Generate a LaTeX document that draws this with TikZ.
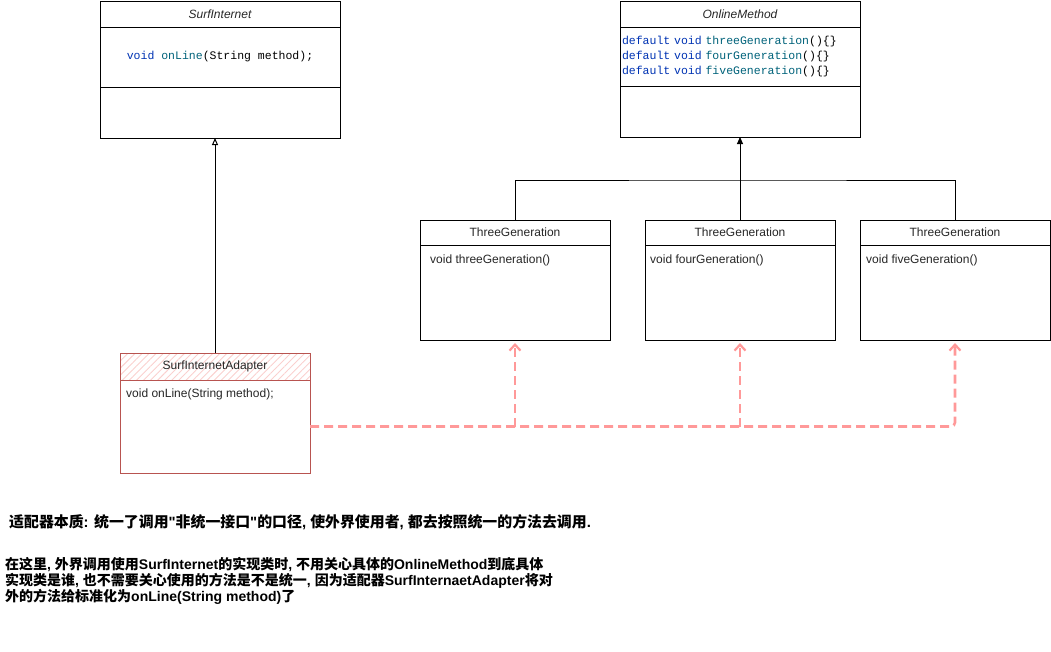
\documentclass[tikz,border=0pt]{standalone}
\usepackage{fontspec}
\setmainfont{Liberation Sans}
\setmonofont{Liberation Mono}
\newfontfamily\cjk{Noto Sans CJK SC}
\newfontfamily\latin{Liberation Sans}[Ligatures=TeXOff]
\usetikzlibrary{arrows.meta,patterns.meta,positioning}
\definecolor{kwblue}{RGB}{0,51,179}
\definecolor{fnteal}{RGB}{0,98,122}
\definecolor{adred}{RGB}{184,84,80}
\definecolor{hatchred}{RGB}{250,208,206}
\definecolor{deppink}{RGB}{255,153,153}
\newcommand{\kw}[1]{\textcolor{kwblue}{#1}}
\newcommand{\fn}[1]{\textcolor{fnteal}{#1}}
\newcommand{\lt}[1]{{\latin #1}}
\tikzset{
  box/.style={draw, line width=1pt, inner sep=0pt, outer sep=0pt, anchor=north west},
  headtext/.style={font=\fontsize{12}{14}\selectfont, text=black!85},
  codetext/.style={font=\ttfamily\fontsize{11.5}{15}\selectfont},
  member/.style={anchor=west, inner sep=0pt, font=\fontsize{12}{14}\selectfont, text=black!85},
  tree/.style={line width=1pt},
  dep/.style={draw=deppink, line width=2.6pt, dash pattern=on 9pt off 5pt, shorten >=3pt,
    -{Straight Barb[length=6pt,width=11pt,line width=2.2pt]}},
  note/.style={inner sep=0pt, font=\cjk\bfseries\fontsize{14}{16}\selectfont}
}
\begin{document}
\begin{tikzpicture}[x=1pt,y=-1pt]
\useasboundingbox (0,0) rectangle (1051,651);

\node[box, headtext, minimum width=240pt, minimum height=26pt] (sihead) at (100,1) {\itshape SurfInternet};
\node[box, codetext, minimum width=240pt, minimum height=60pt] (sibody) at (sihead.south west) {\kw{void} \fn{onLine}(String method);};
\node[box, minimum width=240pt, minimum height=51pt] (sirest) at (sibody.south west) {};

\node[box, headtext, minimum width=240pt, minimum height=26pt] (omhead) at (620,1) {\itshape OnlineMethod};
\node[box, codetext, minimum width=240pt, minimum height=59pt, text width=236pt, inner xsep=2pt, align=left] (ombody) at (omhead.south west)
  {\kw{default void} \fn{threeGeneration}()\{\}\\\kw{default void} \fn{fourGeneration}()\{\}\\\kw{default void} \fn{fiveGeneration}()\{\}};
\node[box, minimum width=240pt, minimum height=51pt] (omrest) at (ombody.south west) {};

\foreach \x/\n/\m/\o in {420/g1/three/10,645/g2/four/5,860/g3/five/6}{
  \node[box, headtext, minimum width=190pt, minimum height=25pt] (\n-head) at (\x,220) {ThreeGeneration};
  \node[box, minimum width=190pt, minimum height=95pt] (\n-body) at (\n-head.south west) {};
  \node[member] (\n-member) at ([xshift=\o pt,yshift=-15pt]\n-body.north west) {void \m Generation()};
}

\coordinate (fork) at (740,180);
\draw[tree] (g1-head.north) |- (fork) -| (g3-head.north);
\draw[tree,-{Triangle[length=7pt,width=6pt]}] (g2-head.north) -- (omrest.south);

\node[box, headtext, draw=adred, minimum width=190pt, minimum height=27pt,
  pattern={Lines[angle=45,distance=5pt,line width=0.9pt]}, pattern color=hatchred] (adhead) at (120,353) {SurfInternetAdapter};
\node[box, draw=adred, minimum width=190pt, minimum height=93pt] (adbody) at (adhead.south west) {};
\node[member] (admember) at ([xshift=6pt,yshift=-14pt]adbody.north west) {void onLine(String method);};

\draw[tree,-{Triangle[open,length=7pt,width=6pt]}] (adhead.north) -- (adhead.north |- sirest.south);

\draw[dep, rounded corners=4pt] (adbody.east) -| (g3-body.south);
\draw[dep] (g1-body.south |- adbody.east) -- (g1-body.south);
\draw[dep] (g2-body.south |- adbody.east) -- (g2-body.south);

\node[note, anchor=west, font=\cjk\bfseries\fontsize{14.9}{16}\selectfont] (essence) at (9,522) {适配器本质\lt{: }统一了调用\lt{"}非统一接口\lt{"}的口径\lt{, }使外界使用者\lt{, }都去按照统一的方法去调用\lt{.}};
\node[note, anchor=north west, align=left] (detail) at (5,557)
  {在这里\lt{, }外界调用使用\lt{SurfInternet}的实现类时\lt{, }不用关心具体的\lt{OnlineMethod}到底具体\\实现类是谁\lt{, }也不需要关心使用的方法是不是统一\lt{, }因为适配器\lt{SurfInternaetAdapter}将对\\外的方法给标准化为\lt{onLine(String method)}了};
\end{tikzpicture}
\end{document}
